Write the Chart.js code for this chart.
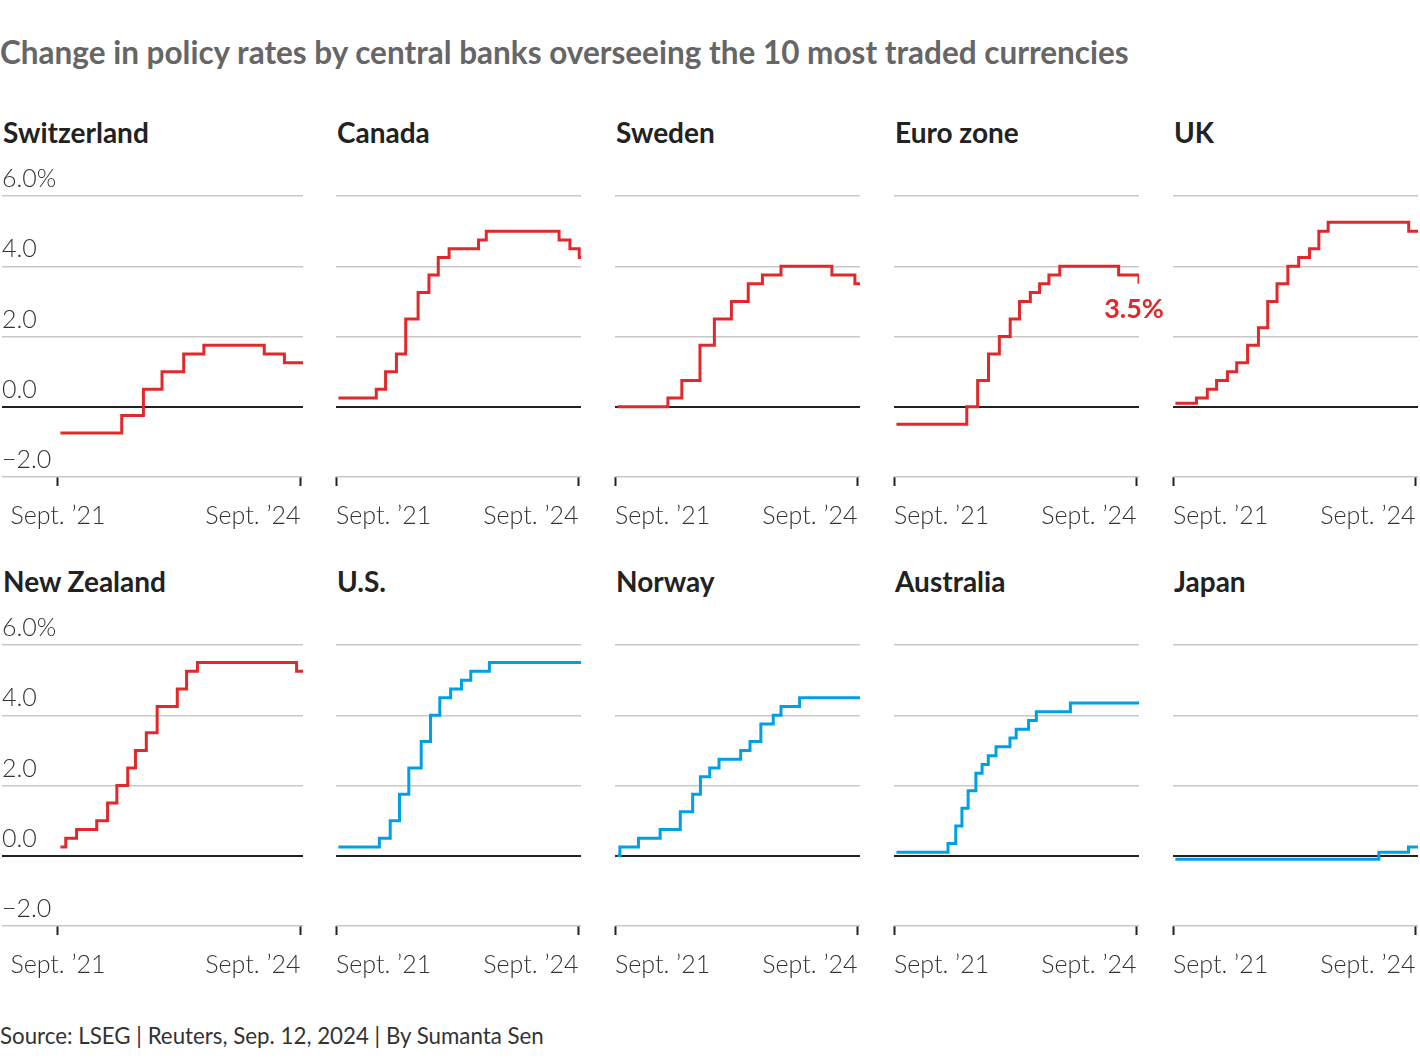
<!DOCTYPE html>
<html>
<head>
<meta charset="utf-8">
<script src="https://cdn.jsdelivr.net/npm/chart.js@4.4.1/dist/chart.umd.min.js"></script>
<style>
  html, body { margin: 0; padding: 0; background: #fff; overflow: hidden; }
  body { width: 1420px; height: 1058px; position: relative; font-family: Lato, "Noto Sans", sans-serif; }
  .headline { position: absolute; left: 0; top: 37px; font-size: 31.5px; font-weight: 700; color: #666; line-height: 1; white-space: nowrap; }
  .panel-title { position: absolute; font-size: 28px; font-weight: 700; color: #222; line-height: 1; white-space: nowrap; }
  .source { position: absolute; left: 0; top: 1025px; font-size: 22.3px; color: #333; line-height: 1; white-space: nowrap; }
  canvas { position: absolute; }
</style>
</head>
<body>
<div class="headline">Change in policy rates by central banks overseeing the 10 most traded currencies</div>
<div class="source">Source: LSEG | Reuters, Sep. 12, 2024 | By Sumanta Sen</div>
<script>
const RED = "#e1282a";
const BLUE = "#00a0e4";

// axis ticks
const yTickValues = [-2, 0, 2, 4, 6];
const yTickLabels = ["\u22122.0", "0.0", "2.0", "4.0", "6.0%"];
const xTickDates = ["2021-09-01", "2024-09-01"];
const xTickLabels = ["Sept. \u201921", "Sept. \u201924"];
const endDate = "2024-09-12";

// policy rates, % (date of change, new rate)
const swissDates = ["2021-09-12", "2022-06-16", "2022-09-22", "2022-12-15", "2023-03-23", "2023-06-22", "2024-03-21", "2024-06-20", "2024-09-12"];
const swissRates = [-0.75, -0.25, 0.5, 1.0, 1.5, 1.75, 1.5, 1.25, 1.25];

const canadaDates = ["2021-09-12", "2022-03-02", "2022-04-13", "2022-06-01", "2022-07-13", "2022-09-07", "2022-10-26", "2022-12-07", "2023-01-25", "2023-06-07", "2023-07-12", "2024-06-05", "2024-07-24", "2024-09-04", "2024-09-12"];
const canadaRates = [0.25, 0.5, 1.0, 1.5, 2.5, 3.25, 3.75, 4.25, 4.5, 4.75, 5.0, 4.75, 4.5, 4.25, 4.25];

const swedenDates = ["2021-09-12", "2022-04-28", "2022-06-30", "2022-09-20", "2022-11-24", "2023-02-09", "2023-04-26", "2023-06-29", "2023-09-21", "2024-05-08", "2024-08-20", "2024-09-12"];
const swedenRates = [0, 0.25, 0.75, 1.75, 2.5, 3.0, 3.5, 3.75, 4.0, 3.75, 3.5, 3.5];

const euroDates = ["2021-09-12", "2022-07-27", "2022-09-14", "2022-11-02", "2022-12-21", "2023-02-08", "2023-03-22", "2023-05-10", "2023-06-21", "2023-08-02", "2023-09-20", "2024-06-12", "2024-09-12"];
const euroRates = [-0.5, 0, 0.75, 1.5, 2.0, 2.5, 3.0, 3.25, 3.5, 3.75, 4.0, 3.75, 3.5];

const ukDates = ["2021-09-12", "2021-12-16", "2022-02-03", "2022-03-17", "2022-05-05", "2022-06-16", "2022-08-04", "2022-09-22", "2022-11-03", "2022-12-15", "2023-02-02", "2023-03-23", "2023-05-11", "2023-06-22", "2023-08-03", "2024-08-01", "2024-09-12"];
const ukRates = [0.1, 0.25, 0.5, 0.75, 1.0, 1.25, 1.75, 2.25, 3.0, 3.5, 4.0, 4.25, 4.5, 5.0, 5.25, 5.0, 5.0];

const nzDates = ["2021-09-12", "2021-10-06", "2021-11-24", "2022-02-23", "2022-04-13", "2022-05-25", "2022-07-13", "2022-08-17", "2022-10-05", "2022-11-23", "2023-02-22", "2023-04-05", "2023-05-24", "2024-08-14", "2024-09-12"];
const nzRates = [0.25, 0.5, 0.75, 1.0, 1.5, 2.0, 2.5, 3.0, 3.5, 4.25, 4.75, 5.25, 5.5, 5.25, 5.25];

const usDates = ["2021-09-12", "2022-03-16", "2022-05-04", "2022-06-15", "2022-07-27", "2022-09-21", "2022-11-02", "2022-12-14", "2023-02-01", "2023-03-22", "2023-05-03", "2023-07-26", "2024-09-12"];
const usRates = [0.25, 0.5, 1.0, 1.75, 2.5, 3.25, 4.0, 4.5, 4.75, 5.0, 5.25, 5.5, 5.5];

const norwayDates = ["2021-09-12", "2021-09-23", "2021-12-16", "2022-03-24", "2022-06-23", "2022-08-18", "2022-09-22", "2022-11-03", "2022-12-15", "2023-03-23", "2023-05-04", "2023-06-22", "2023-08-17", "2023-09-21", "2023-12-14", "2024-09-12"];
const norwayRates = [0, 0.25, 0.5, 0.75, 1.25, 1.75, 2.25, 2.5, 2.75, 3.0, 3.25, 3.75, 4.0, 4.25, 4.5, 4.5];

const ausDates = ["2021-09-12", "2022-05-03", "2022-06-07", "2022-07-05", "2022-08-02", "2022-09-06", "2022-10-04", "2022-11-01", "2022-12-06", "2023-02-07", "2023-03-07", "2023-05-02", "2023-06-06", "2023-11-07", "2024-09-12"];
const ausRates = [0.1, 0.35, 0.85, 1.35, 1.85, 2.35, 2.6, 2.85, 3.1, 3.35, 3.6, 3.85, 4.1, 4.35, 4.35];

const japanDates = ["2021-09-12", "2024-03-19", "2024-07-31", "2024-09-12"];
const japanRates = [-0.1, 0.1, 0.25, 0.25];

const panels = [
  { name: "Switzerland", dates: swissDates, rates: swissRates, color: RED },
  { name: "Canada", dates: canadaDates, rates: canadaRates, color: RED },
  { name: "Sweden", dates: swedenDates, rates: swedenRates, color: RED },
  { name: "Euro zone", dates: euroDates, rates: euroRates, color: RED, endLabel: "3.5%" },
  { name: "UK", dates: ukDates, rates: ukRates, color: RED },
  { name: "New Zealand", dates: nzDates, rates: nzRates, color: RED },
  { name: "U.S.", dates: usDates, rates: usRates, color: BLUE },
  { name: "Norway", dates: norwayDates, rates: norwayRates, color: BLUE },
  { name: "Australia", dates: ausDates, rates: ausRates, color: BLUE },
  { name: "Japan", dates: japanDates, rates: japanRates, color: BLUE },
];

// layout
const COL_LEFT = [2, 336, 615, 894, 1173];
const PLOT_W = 245;         // Sept '21 -> end date
const FIRST_COL_INSET = 56; // room for y labels in first column
const ROW_TOP = [150, 599];
const PAD_TOP = 46;
const PAD_LEFT = 15;        // x tick padding also reserves this much on the left
const X_AXIS_H = 60;
const CANVAS_H = 387;
const EXTRA_RIGHT = 28;

const toMs = (d) => Date.parse(d + "T00:00:00Z");
const X_START = toMs(xTickDates[0]);
const X_END = toMs(endDate);

const lightFont = { family: "Lato, 'Noto Sans', sans-serif", size: 25, weight: 300 };

const endLabelPlugin = {
  id: "endLabel",
  afterDatasetsDraw(chart) {
    const text = chart.config.options.endLabel;
    if (!text) return;
    const pts = chart.getDatasetMeta(0).data;
    const last = pts[pts.length - 1];
    const ctx = chart.ctx;
    ctx.save();
    ctx.font = "700 27px Lato, 'Noto Sans', sans-serif";
    ctx.fillStyle = RED;
    ctx.textAlign = "right";
    ctx.textBaseline = "middle";
    ctx.fillText(text, last.x + 25, last.y + 25);
    ctx.restore();
  },
};

function renderPanel(p, idx) {
  const col = idx % 5;
  const row = Math.floor(idx / 5);
  const first = col === 0;
  const inset = first ? FIRST_COL_INSET : 0;
  const plotW = PLOT_W + inset;
  const xMin = X_START - (inset / PLOT_W) * (X_END - X_START);

  const title = document.createElement("div");
  title.className = "panel-title";
  title.textContent = p.name;
  title.style.left = COL_LEFT[col] + 1 + "px";
  title.style.top = ROW_TOP[row] - 32 + "px";
  document.body.appendChild(title);

  const canvas = document.createElement("canvas");
  canvas.width = PAD_LEFT + plotW + EXTRA_RIGHT;
  canvas.height = CANVAS_H;
  canvas.style.left = COL_LEFT[col] - PAD_LEFT + "px";
  canvas.style.top = ROW_TOP[row] + "px";
  document.body.appendChild(canvas);

  const xVals = (first ? [xMin] : []).concat(xTickDates.map(toMs));
  const xLabel = (v) => {
    const i = xTickDates.map(toMs).indexOf(v);
    return i < 0 ? "" : xTickLabels[i];
  };

  new Chart(canvas, {
    type: "line",
    data: {
      datasets: [{
        data: p.dates.map((d, i) => ({ x: toMs(d), y: p.rates[i] })),
        borderColor: p.color,
        borderWidth: 3,
        stepped: true,
        pointRadius: 0,
        fill: false,
        borderCapStyle: "butt",
        borderJoinStyle: "miter",
      }],
    },
    options: {
      responsive: false,
      animation: false,
      devicePixelRatio: 1,
      endLabel: p.endLabel,
      layout: { padding: { top: PAD_TOP, right: EXTRA_RIGHT, bottom: 0, left: PAD_LEFT } },
      plugins: { legend: { display: false }, tooltip: { enabled: false } },
      scales: {
        x: {
          type: "linear",
          min: xMin,
          max: X_END,
          afterBuildTicks: (s) => { s.ticks = xVals.map((v) => ({ value: v })); },
          afterFit: (s) => { s.height = X_AXIS_H; },
          border: { display: false },
          grid: {
            drawOnChartArea: false,
            drawTicks: true,
            tickLength: 9,
            tickWidth: 2,
            tickColor: (ctx) => (first && ctx.index === 0 ? "rgba(0,0,0,0)" : "#222"),
          },
          ticks: {
            autoSkip: false,
            maxRotation: 0,
            align: "inner",
            padding: 15,
            color: "#333",
            font: lightFont,
            callback: xLabel,
          },
        },
        y: {
          min: -2,
          max: 6,
          afterBuildTicks: (s) => { s.ticks = yTickValues.map((v) => ({ value: v })); },
          afterFit: (s) => { s.width = 0; },
          border: { display: false },
          grid: {
            drawTicks: false,
            color: (ctx) => (ctx.tick && ctx.tick.value === 0 ? "#222" : "#c8c8c8"),
            lineWidth: (ctx) => (ctx.tick && ctx.tick.value === 0 ? 2 : 1.5),
          },
          ticks: {
            display: first,
            mirror: true,
            padding: 0,
            labelOffset: -17,
            color: "#333",
            font: lightFont,
            callback: (v) => yTickLabels[yTickValues.indexOf(v)],
          },
        },
      },
    },
    plugins: [endLabelPlugin],
  });
}

panels.forEach(renderPanel);
</script>
</body>
</html>
